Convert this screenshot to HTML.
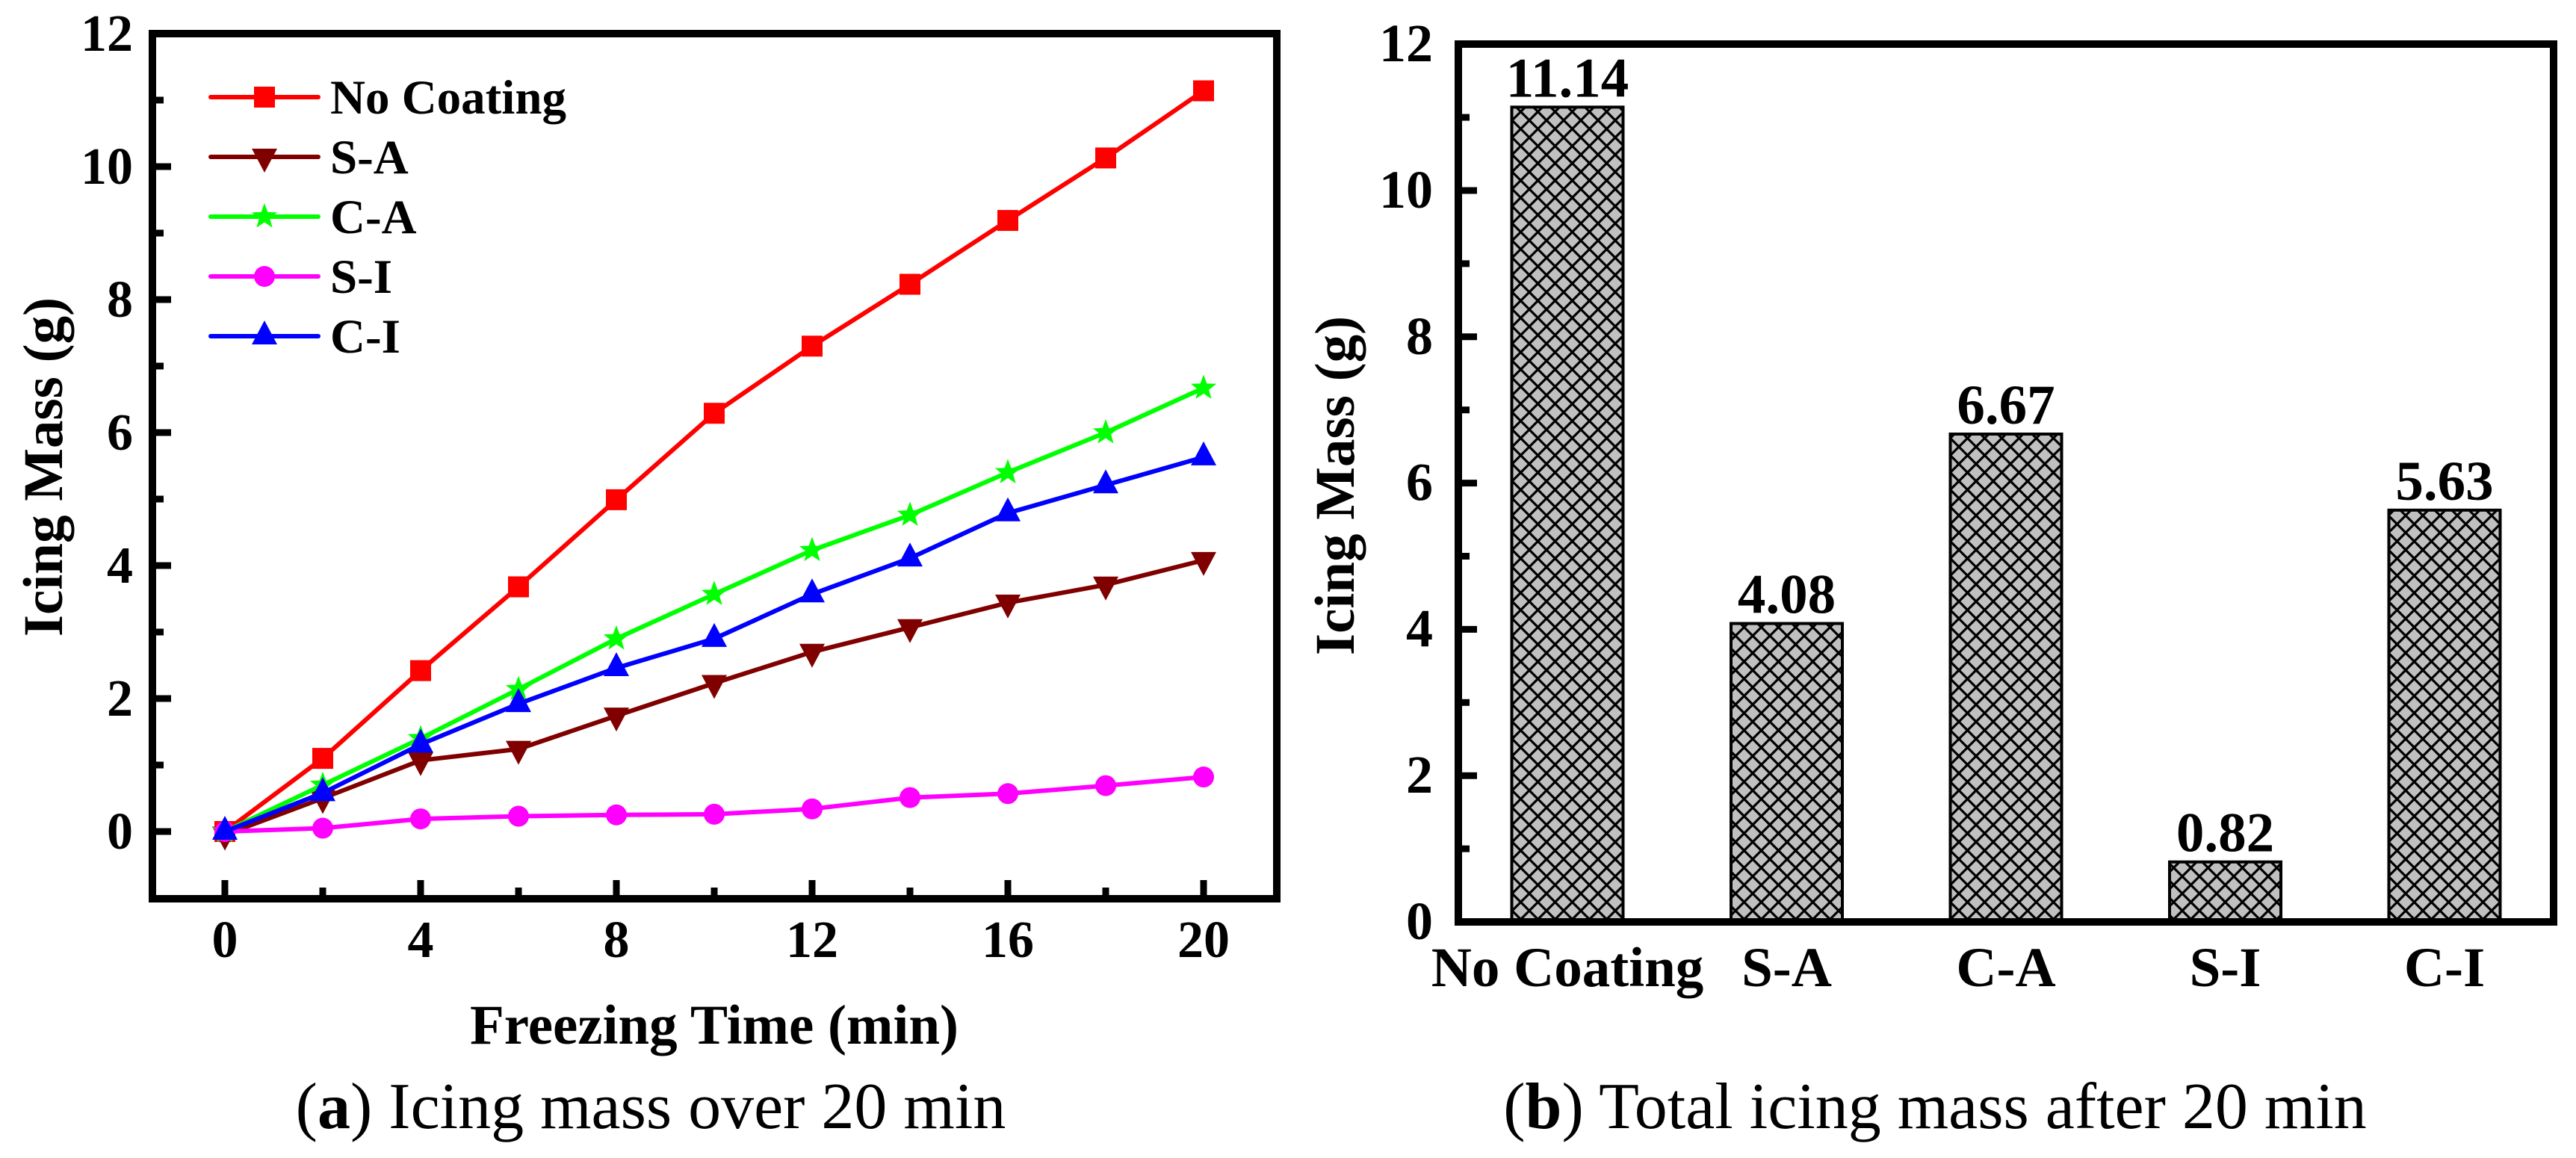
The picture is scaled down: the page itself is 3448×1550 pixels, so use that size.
<!DOCTYPE html>
<html><head><meta charset="utf-8"><style>
html,body{margin:0;padding:0;background:#fff;}
svg{display:block;}
text{font-family:"Liberation Serif",serif;fill:#000;}
.b{font-weight:bold;}
</style></head><body>
<svg id="fig" width="3448" height="1550" viewBox="0 0 3448 1550" xmlns="http://www.w3.org/2000/svg">
<defs>
<pattern id="hatch" patternUnits="userSpaceOnUse" width="23" height="23">
<rect width="23" height="23" fill="#c0c0c0"/>
<path d="M-2,-2 L25,25 M25,-2 L-2,25" stroke="#000" stroke-width="3.2"/>
</pattern>
</defs>
<g id="chartA"></g>
<g id="chartB"></g>
<text x="871" y="1510" font-size="88" text-anchor="middle">(<tspan class="b">a</tspan>) Icing mass over 20 min</text>
<text x="2590" y="1510" font-size="88" text-anchor="middle">(<tspan class="b">b</tspan>) Total icing mass after 20 min</text>
</svg>
<script>
const times = [0,2,4,6,8,10,12,14,16,18,20];
const noCoating = [0,1.1,2.42,3.68,4.99,6.29,7.3,8.23,9.19,10.13,11.14];
const sA = [-0.05,0.5,1.07,1.24,1.74,2.23,2.7,3.07,3.44,3.71,4.08];
const cA = [0,0.7,1.4,2.14,2.9,3.57,4.23,4.76,5.4,6.0,6.67];
const sI = [0,0.05,0.19,0.23,0.25,0.26,0.34,0.51,0.57,0.69,0.82];
const cI = [0,0.58,1.31,1.92,2.46,2.9,3.57,4.11,4.79,5.21,5.63];
const seriesNames = ["No Coating","S-A","C-A","S-I","C-I"];
const xTickLabels = ["0","4","8","12","16","20"];
const yTickLabels = ["0","2","4","6","8","10","12"];
const barCategories = ["No Coating","S-A","C-A","S-I","C-I"];
const barValues = [11.14,4.08,6.67,0.82,5.63];
const barLabels = ["11.14","4.08","6.67","0.82","5.63"];

const NS="http://www.w3.org/2000/svg";
function mk(tag, attrs, parent){const e=document.createElementNS(NS,tag);for(const k in attrs)e.setAttribute(k,attrs[k]);parent.appendChild(e);return e;}

// ---------- Chart A ----------
const A=document.getElementById('chartA');
const aL=204,aR=1709,aT=45,aB=1203;
const ax=v=>301+(v-0)*(1611-301)/20;
const ay=v=>1113-v*89;
const fr=mk('rect',{x:aL,y:aT,width:aR-aL,height:aB-aT,fill:'none',stroke:'#000','stroke-width':10},A);


for(let v=-1;v<=12;v++){
  if(v<0) continue;
  const maj=v%2===0;
  const t=mk('line',{x1:aL,x2:aL+5+(maj?20:10),y1:ay(v),y2:ay(v),stroke:'#000','stroke-width':9},A);
  
  
}
yTickLabels.forEach(s=>{
  const v=parseFloat(s);
  const t=mk('text',{x:178,y:ay(v)+23,'font-size':70,'text-anchor':'end',class:'b'},A);
  t.textContent=s;
  
  
});
for(let v=0;v<=20;v+=2){
  const maj=v%4===0;
  const t=mk('line',{x1:ax(v),x2:ax(v),y1:aB,y2:aB-5-(maj?20:10),stroke:'#000','stroke-width':9},A);
  
  
}
xTickLabels.forEach(s=>{
  const v=parseFloat(s);
  const t=mk('text',{x:ax(v),y:1281,'font-size':70,'text-anchor':'middle',class:'b'},A);
  t.textContent=s;
  
  
});
let xt=mk('text',{x:956,y:1397,'font-size':75,'text-anchor':'middle',class:'b'},A);
xt.textContent='Freezing Time (min)';


let yt=mk('text',{x:0,y:0,'font-size':75,'text-anchor':'middle',class:'b',transform:'translate(83,625) rotate(-90)'},A);
yt.textContent='Icing Mass (g)';



const colors=['#ff0000','#800000','#00ff00','#ff00ff','#0000ff'];
const shapes=['square','tri-down','star','circle','tri-up'];
function marker(shape,cx,cy,col,parent){
  let e;
  if(shape==='square') e=mk('rect',{x:cx-14,y:cy-14,width:28,height:28,fill:col},parent);
  else if(shape==='circle') e=mk('circle',{cx:cx,cy:cy,r:14,fill:col},parent);
  else if(shape==='tri-down') e=mk('polygon',{points:`${cx-17},${cy-11} ${cx+17},${cy-11} ${cx},${cy+21}`,fill:col},parent);
  else if(shape==='tri-up') e=mk('polygon',{points:`${cx-17},${cy+11} ${cx+17},${cy+11} ${cx},${cy-21}`,fill:col},parent);
  else {
    let p=[];for(let i=0;i<10;i++){const r=i%2?7.5:18;const a=-Math.PI/2+i*Math.PI/5;p.push((cx+r*Math.cos(a)).toFixed(1)+','+(cy+r*Math.sin(a)).toFixed(1));}
    e=mk('polygon',{points:p.join(' '),fill:col},parent);
  }
  return e;
}
const allSeries=[noCoating,sA,cA,sI,cI];
allSeries.forEach((vals,si)=>{
  const g=mk('g',{},A);
  
  
  const pts=vals.map((v,i)=>ax(times[i]).toFixed(1)+','+ay(v).toFixed(1)).join(' ');
  const pl=mk('polyline',{points:pts,fill:'none',stroke:colors[si],'stroke-width':6,'stroke-linejoin':'round'},g);
  
  
  vals.forEach((v,i)=>{
    const m=marker(shapes[si],ax(times[i]),ay(v),colors[si],g);
    
    
  });
});
// legend
const lg=mk('g',{},A);


seriesNames.forEach((n,i)=>{
  const y=130+i*80;
  const e=mk('g',{},lg);
  
  
  mk('line',{x1:282,x2:426,y1:y,y2:y,stroke:colors[i],'stroke-width':6,'stroke-linecap':'round'},e);
  marker(shapes[i],354,y,colors[i],e);
  const t=mk('text',{x:442,y:y+22,'font-size':65,class:'b'},e);
  t.textContent=n;
});

// ---------- Chart B ----------
const B=document.getElementById('chartB');
const bL=1952,bR=3418,bT=59,bB=1234;
const by=v=>1234-v*97.9;
const bx=i=>2098+i*293.5;
barValues.forEach((v,i)=>{
  const r=mk('rect',{x:bx(i)-74.5,y:by(v),width:149,height:by(0)-by(v),fill:'url(#hatch)',stroke:'#000','stroke-width':4},B);
  
  
  const t=mk('text',{x:bx(i),y:by(v)-14,'font-size':75,'text-anchor':'middle',class:'b'},B);
  t.textContent=barLabels[i];
  
  
  const c=mk('text',{x:bx(i),y:1320,'font-size':75,'text-anchor':'middle',class:'b'},B);
  c.textContent=barCategories[i];
  
  
});
const fb=mk('rect',{x:bL,y:bT,width:bR-bL,height:bB-bT,fill:'none',stroke:'#000','stroke-width':10},B);


for(let v=1;v<12;v++){
  const maj=v%2===0;
  const t=mk('line',{x1:bL,x2:bL+5+(maj?20:10),y1:by(v),y2:by(v),stroke:'#000','stroke-width':9},B);
  
  
}
yTickLabels.forEach(s=>{
  const v=parseFloat(s);
  const t=mk('text',{x:1918,y:by(v)+23,'font-size':72,'text-anchor':'end',class:'b'},B);
  t.textContent=s;
  
  
});
let yb=mk('text',{x:0,y:0,'font-size':75,'text-anchor':'middle',class:'b',transform:'translate(1812,650) rotate(-90)'},B);
yb.textContent='Icing Mass (g)';


</script>
</body></html>
